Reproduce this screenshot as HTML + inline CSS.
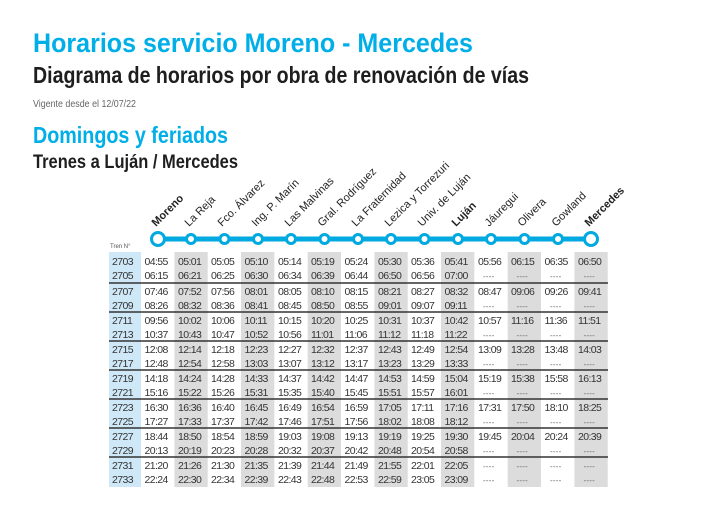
<!DOCTYPE html>
<html><head><meta charset="utf-8"><style>
html,body{margin:0;padding:0;background:#fff;}
svg{display:block;font-family:"Liberation Sans",sans-serif;}
.t text{font-size:10.5px;letter-spacing:-0.6px;fill:#333;}
.d text{font-size:8px;fill:#666;letter-spacing:0.2px;}
.st text{font-size:11px;fill:#222;}
</style></head><body>
<svg width="708" height="519" viewBox="0 0 708 519" xmlns="http://www.w3.org/2000/svg">
<text x="33" y="52" font-size="27" font-weight="bold" fill="#00aee8" textLength="440" lengthAdjust="spacingAndGlyphs">Horarios servicio Moreno - Mercedes</text>
<text x="33" y="83" font-size="23" font-weight="bold" fill="#1e1e1e" textLength="496" lengthAdjust="spacingAndGlyphs">Diagrama de horarios por obra de renovación de vías</text>
<text x="33" y="107" font-size="10" fill="#666" textLength="103" lengthAdjust="spacingAndGlyphs">Vigente desde el 12/07/22</text>
<text x="33" y="143" font-size="23" font-weight="bold" fill="#00aee8" textLength="195" lengthAdjust="spacingAndGlyphs">Domingos y feriados</text>
<text x="33" y="168" font-size="19" font-weight="bold" fill="#1e1e1e" textLength="205" lengthAdjust="spacingAndGlyphs">Trenes a Luján / Mercedes</text>

<!-- stations -->
<g class="st">
<text transform="translate(156,227) rotate(-45)" font-weight="bold">Moreno</text>
<text transform="translate(189,227) rotate(-45)">La Reja</text>
<text transform="translate(222,227) rotate(-45)">Fco. Álvarez</text>
<text transform="translate(256,227) rotate(-45)">Ing. P. Marín</text>
<text transform="translate(289,227) rotate(-45)">Las Malvinas</text>
<text transform="translate(322,227) rotate(-45)">Gral. Rodríguez</text>
<text transform="translate(356,227) rotate(-45)">La Fraternidad</text>
<text transform="translate(389,227) rotate(-45)">Lezica y Torrezuri</text>
<text transform="translate(422,227) rotate(-45)">Univ. de Luján</text>
<text transform="translate(456,227) rotate(-45)" font-weight="bold">Luján</text>
<text transform="translate(489,227) rotate(-45)">Jáuregui</text>
<text transform="translate(522,227) rotate(-45)">Olivera</text>
<text transform="translate(556,227) rotate(-45)">Gowland</text>
<text transform="translate(589,227) rotate(-45)" font-weight="bold">Mercedes</text>
</g>
<line x1="158" y1="239" x2="591" y2="239" stroke="#00a9e0" stroke-width="5"/>
<g fill="#fff" stroke="#00a9e0" stroke-width="3">
<circle cx="158" cy="239" r="6.5"/>
<circle cx="191" cy="239" r="4.5"/><circle cx="224.5" cy="239" r="4.5"/><circle cx="258" cy="239" r="4.5"/>
<circle cx="291" cy="239" r="4.5"/><circle cx="324.5" cy="239" r="4.5"/><circle cx="358" cy="239" r="4.5"/>
<circle cx="391" cy="239" r="4.5"/><circle cx="424.5" cy="239" r="4.5"/><circle cx="458" cy="239" r="4.5"/>
<circle cx="491" cy="239" r="4.5"/><circle cx="524.5" cy="239" r="4.5"/><circle cx="558" cy="239" r="4.5"/>
<circle cx="591" cy="239" r="6.5"/>
</g>
<text x="110" y="248" font-size="6" fill="#555">Tren N°</text>

<!-- backgrounds -->
<rect x="109" y="252" width="32" height="235" fill="#cfe8f7"/>
<g fill="#dcdcdc">
<rect x="174.4" y="252" width="33.3" height="235"/>
<rect x="241" y="252" width="33.3" height="235"/>
<rect x="307.7" y="252" width="33.3" height="235"/>
<rect x="374.4" y="252" width="33.3" height="235"/>
<rect x="441" y="252" width="33.3" height="235"/>
<rect x="507.7" y="252" width="33.3" height="235"/>
<rect x="574.4" y="252" width="33.3" height="235"/>
</g>
<g stroke="#333" stroke-width="1.5">
<line x1="109" x2="608" y1="283" y2="283"/><line x1="109" x2="608" y1="312" y2="312"/>
<line x1="109" x2="608" y1="341" y2="341"/><line x1="109" x2="608" y1="370" y2="370"/>
<line x1="109" x2="608" y1="399" y2="399"/><line x1="109" x2="608" y1="428" y2="428"/>
<line x1="109" x2="608" y1="457" y2="457"/>
</g>

<g class="t">
<!-- 2703 -->
<text x="112" y="265">2703</text><text x="144.5" y="265">04:55</text><text x="178" y="265">05:01</text><text x="211" y="265">05:05</text><text x="244.5" y="265">05:10</text><text x="278" y="265">05:14</text><text x="311" y="265">05:19</text><text x="344.5" y="265">05:24</text><text x="378" y="265">05:30</text><text x="411" y="265">05:36</text><text x="444.5" y="265">05:41</text><text x="478" y="265">05:56</text><text x="511" y="265">06:15</text><text x="544.5" y="265">06:35</text><text x="578" y="265">06:50</text>
<text x="112" y="279">2705</text><text x="144.5" y="279">06:15</text><text x="178" y="279">06:21</text><text x="211" y="279">06:25</text><text x="244.5" y="279">06:30</text><text x="278" y="279">06:34</text><text x="311" y="279">06:39</text><text x="344.5" y="279">06:44</text><text x="378" y="279">06:50</text><text x="411" y="279">06:56</text><text x="444.5" y="279">07:00</text>
<!-- 2707 -->
<text x="112" y="295">2707</text><text x="144.5" y="295">07:46</text><text x="178" y="295">07:52</text><text x="211" y="295">07:56</text><text x="244.5" y="295">08:01</text><text x="278" y="295">08:05</text><text x="311" y="295">08:10</text><text x="344.5" y="295">08:15</text><text x="378" y="295">08:21</text><text x="411" y="295">08:27</text><text x="444.5" y="295">08:32</text><text x="478" y="295">08:47</text><text x="511" y="295">09:06</text><text x="544.5" y="295">09:26</text><text x="578" y="295">09:41</text>
<text x="112" y="309">2709</text><text x="144.5" y="309">08:26</text><text x="178" y="309">08:32</text><text x="211" y="309">08:36</text><text x="244.5" y="309">08:41</text><text x="278" y="309">08:45</text><text x="311" y="309">08:50</text><text x="344.5" y="309">08:55</text><text x="378" y="309">09:01</text><text x="411" y="309">09:07</text><text x="444.5" y="309">09:11</text>
<!-- 2711 -->
<text x="112" y="324">2711</text><text x="144.5" y="324">09:56</text><text x="178" y="324">10:02</text><text x="211" y="324">10:06</text><text x="244.5" y="324">10:11</text><text x="278" y="324">10:15</text><text x="311" y="324">10:20</text><text x="344.5" y="324">10:25</text><text x="378" y="324">10:31</text><text x="411" y="324">10:37</text><text x="444.5" y="324">10:42</text><text x="478" y="324">10:57</text><text x="511" y="324">11:16</text><text x="544.5" y="324">11:36</text><text x="578" y="324">11:51</text>
<text x="112" y="338">2713</text><text x="144.5" y="338">10:37</text><text x="178" y="338">10:43</text><text x="211" y="338">10:47</text><text x="244.5" y="338">10:52</text><text x="278" y="338">10:56</text><text x="311" y="338">11:01</text><text x="344.5" y="338">11:06</text><text x="378" y="338">11:12</text><text x="411" y="338">11:18</text><text x="444.5" y="338">11:22</text>
<!-- 2715 -->
<text x="112" y="353">2715</text><text x="144.5" y="353">12:08</text><text x="178" y="353">12:14</text><text x="211" y="353">12:18</text><text x="244.5" y="353">12:23</text><text x="278" y="353">12:27</text><text x="311" y="353">12:32</text><text x="344.5" y="353">12:37</text><text x="378" y="353">12:43</text><text x="411" y="353">12:49</text><text x="444.5" y="353">12:54</text><text x="478" y="353">13:09</text><text x="511" y="353">13:28</text><text x="544.5" y="353">13:48</text><text x="578" y="353">14:03</text>
<text x="112" y="367">2717</text><text x="144.5" y="367">12:48</text><text x="178" y="367">12:54</text><text x="211" y="367">12:58</text><text x="244.5" y="367">13:03</text><text x="278" y="367">13:07</text><text x="311" y="367">13:12</text><text x="344.5" y="367">13:17</text><text x="378" y="367">13:23</text><text x="411" y="367">13:29</text><text x="444.5" y="367">13:33</text>
<!-- 2719 -->
<text x="112" y="382">2719</text><text x="144.5" y="382">14:18</text><text x="178" y="382">14:24</text><text x="211" y="382">14:28</text><text x="244.5" y="382">14:33</text><text x="278" y="382">14:37</text><text x="311" y="382">14:42</text><text x="344.5" y="382">14:47</text><text x="378" y="382">14:53</text><text x="411" y="382">14:59</text><text x="444.5" y="382">15:04</text><text x="478" y="382">15:19</text><text x="511" y="382">15:38</text><text x="544.5" y="382">15:58</text><text x="578" y="382">16:13</text>
<text x="112" y="396">2721</text><text x="144.5" y="396">15:16</text><text x="178" y="396">15:22</text><text x="211" y="396">15:26</text><text x="244.5" y="396">15:31</text><text x="278" y="396">15:35</text><text x="311" y="396">15:40</text><text x="344.5" y="396">15:45</text><text x="378" y="396">15:51</text><text x="411" y="396">15:57</text><text x="444.5" y="396">16:01</text>
<!-- 2723 -->
<text x="112" y="411">2723</text><text x="144.5" y="411">16:30</text><text x="178" y="411">16:36</text><text x="211" y="411">16:40</text><text x="244.5" y="411">16:45</text><text x="278" y="411">16:49</text><text x="311" y="411">16:54</text><text x="344.5" y="411">16:59</text><text x="378" y="411">17:05</text><text x="411" y="411">17:11</text><text x="444.5" y="411">17:16</text><text x="478" y="411">17:31</text><text x="511" y="411">17:50</text><text x="544.5" y="411">18:10</text><text x="578" y="411">18:25</text>
<text x="112" y="425">2725</text><text x="144.5" y="425">17:27</text><text x="178" y="425">17:33</text><text x="211" y="425">17:37</text><text x="244.5" y="425">17:42</text><text x="278" y="425">17:46</text><text x="311" y="425">17:51</text><text x="344.5" y="425">17:56</text><text x="378" y="425">18:02</text><text x="411" y="425">18:08</text><text x="444.5" y="425">18:12</text>
<!-- 2727 -->
<text x="112" y="440">2727</text><text x="144.5" y="440">18:44</text><text x="178" y="440">18:50</text><text x="211" y="440">18:54</text><text x="244.5" y="440">18:59</text><text x="278" y="440">19:03</text><text x="311" y="440">19:08</text><text x="344.5" y="440">19:13</text><text x="378" y="440">19:19</text><text x="411" y="440">19:25</text><text x="444.5" y="440">19:30</text><text x="478" y="440">19:45</text><text x="511" y="440">20:04</text><text x="544.5" y="440">20:24</text><text x="578" y="440">20:39</text>
<text x="112" y="454">2729</text><text x="144.5" y="454">20:13</text><text x="178" y="454">20:19</text><text x="211" y="454">20:23</text><text x="244.5" y="454">20:28</text><text x="278" y="454">20:32</text><text x="311" y="454">20:37</text><text x="344.5" y="454">20:42</text><text x="378" y="454">20:48</text><text x="411" y="454">20:54</text><text x="444.5" y="454">20:58</text>
<!-- 2731 -->
<text x="112" y="469">2731</text><text x="144.5" y="469">21:20</text><text x="178" y="469">21:26</text><text x="211" y="469">21:30</text><text x="244.5" y="469">21:35</text><text x="278" y="469">21:39</text><text x="311" y="469">21:44</text><text x="344.5" y="469">21:49</text><text x="378" y="469">21:55</text><text x="411" y="469">22:01</text><text x="444.5" y="469">22:05</text>
<text x="112" y="483">2733</text><text x="144.5" y="483">22:24</text><text x="178" y="483">22:30</text><text x="211" y="483">22:34</text><text x="244.5" y="483">22:39</text><text x="278" y="483">22:43</text><text x="311" y="483">22:48</text><text x="344.5" y="483">22:53</text><text x="378" y="483">22:59</text><text x="411" y="483">23:05</text><text x="444.5" y="483">23:09</text>
</g>
<g class="d">
<text x="483" y="279">----</text><text x="516.5" y="279">----</text><text x="550" y="279">----</text><text x="583.5" y="279">----</text>
<text x="483" y="309">----</text><text x="516.5" y="309">----</text><text x="550" y="309">----</text><text x="583.5" y="309">----</text>
<text x="483" y="338">----</text><text x="516.5" y="338">----</text><text x="550" y="338">----</text><text x="583.5" y="338">----</text>
<text x="483" y="367">----</text><text x="516.5" y="367">----</text><text x="550" y="367">----</text><text x="583.5" y="367">----</text>
<text x="483" y="396">----</text><text x="516.5" y="396">----</text><text x="550" y="396">----</text><text x="583.5" y="396">----</text>
<text x="483" y="425">----</text><text x="516.5" y="425">----</text><text x="550" y="425">----</text><text x="583.5" y="425">----</text>
<text x="483" y="454">----</text><text x="516.5" y="454">----</text><text x="550" y="454">----</text><text x="583.5" y="454">----</text>
<text x="483" y="469">----</text><text x="516.5" y="469">----</text><text x="550" y="469">----</text><text x="583.5" y="469">----</text>
<text x="483" y="483">----</text><text x="516.5" y="483">----</text><text x="550" y="483">----</text><text x="583.5" y="483">----</text>
</g>
</svg>
</body></html>
